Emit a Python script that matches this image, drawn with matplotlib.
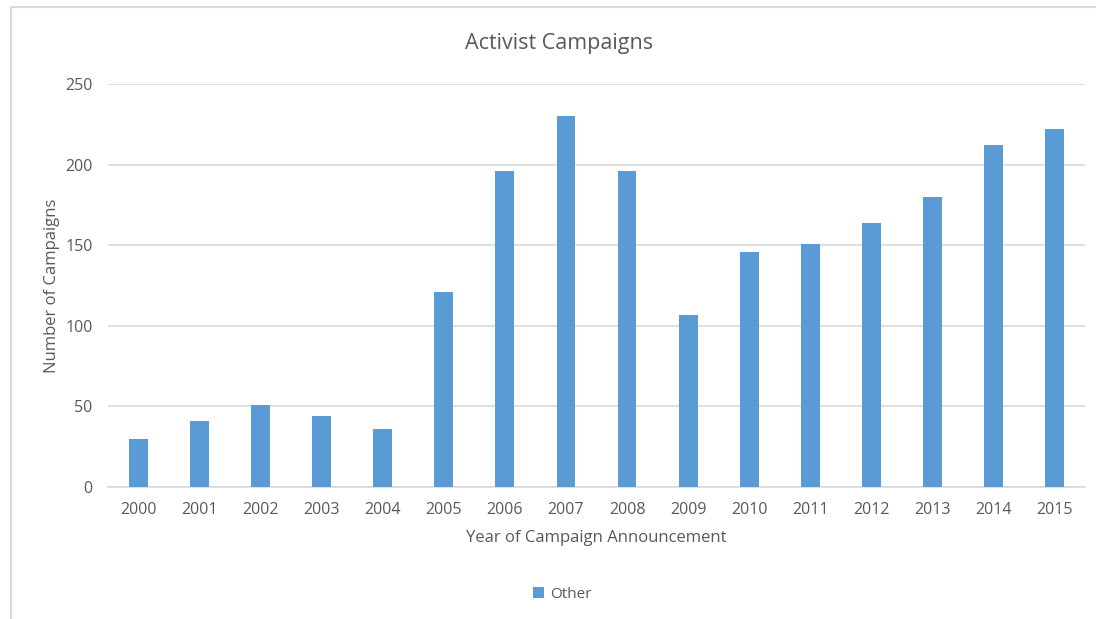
import numpy as np
import matplotlib.pyplot as plt
from matplotlib.patches import Rectangle

years = ['2000', '2001', '2002', '2003', '2004', '2005', '2006', '2007',
         '2008', '2009', '2010', '2011', '2012', '2013', '2014', '2015']
campaigns = [30, 41, 51, 44, 36, 121, 196, 230, 196, 107, 146, 151, 164, 180, 212, 222]

bar_color = '#5b9bd5'
text_color = '#595959'
grid_color = '#d9d9d9'

plt.rcParams['font.family'] = ['Open Sans', 'DejaVu Sans']

fig = plt.figure(figsize=(10.96, 6.19), dpi=100)
ax = fig.add_axes([108 / 1096, 1 - 487 / 619, (1085 - 108) / 1096, (487 - 84) / 619])

x = np.arange(len(years))
ax.bar(x, campaigns, width=0.31, color=bar_color, label='Other', zorder=3)

ax.set_xlim(-0.5, len(years) - 0.5)
ax.set_ylim(0, 250)
ax.set_yticks(range(0, 251, 50))
ax.set_xticks(x)
ax.set_xticklabels(years)
ax.yaxis.grid(True, color=grid_color, linewidth=1.2, zorder=0)
for s in ['top', 'right', 'left']:
    ax.spines[s].set_visible(False)
ax.spines['bottom'].set_color(grid_color)
ax.spines['bottom'].set_linewidth(1.2)
ax.tick_params(axis='both', length=0, colors=text_color, labelsize=11.5)
ax.tick_params(axis='x', pad=10.5)
ax.tick_params(axis='y', pad=11)

ax.set_xlabel('Year of Campaign Announcement', fontsize=12, color=text_color, labelpad=9)
ax.set_ylabel('Number of Campaigns', fontsize=12, color=text_color, labelpad=3.5)
fig.text(559 / 1096, 1 - 43 / 619, 'Activist Campaigns', fontsize=15.5, color=text_color,
         ha='center', va='center')

leg = fig.legend(loc='center', bbox_to_anchor=(562 / 1096, 1 - 594 / 619), frameon=False,
                 fontsize=11, handlelength=0.7, handleheight=0.7, handletextpad=0.4)
for t in leg.get_texts():
    t.set_color(text_color)

# chart frame
fig.patches.append(Rectangle((11 / 1096, -0.1), 1.2, 1 - 7 / 619 + 0.1,
                             transform=fig.transFigure, fill=False,
                             edgecolor=grid_color, linewidth=1.5))

fig.savefig('out.png', dpi=100)
